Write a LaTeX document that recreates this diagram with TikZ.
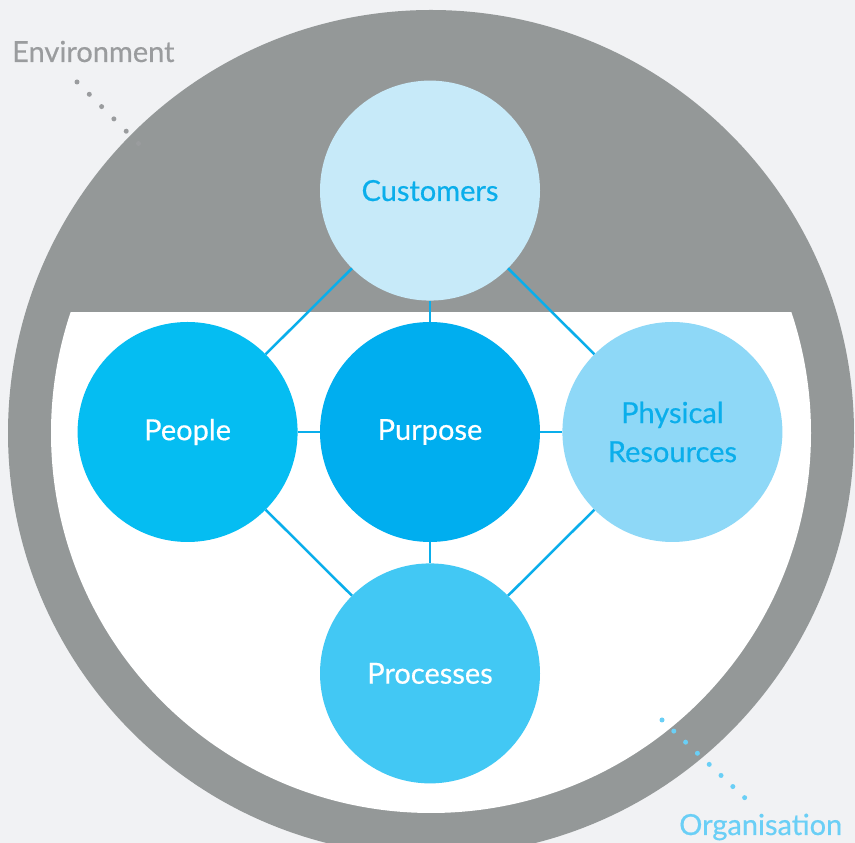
\documentclass[tikz,border=0pt]{standalone}
\usepackage{fontspec}
\setmainfont{Lato}
\newfontfamily\labelfont[FakeBold=0.5]{Lato}
\usepackage{xcolor}
\usepackage{tikz}
\usetikzlibrary{positioning}

\definecolor{bggray}{HTML}{F1F2F4}
\definecolor{rimgray}{HTML}{949898}
\definecolor{envgray}{HTML}{9A9C9E}
\definecolor{orgblue}{HTML}{6ACFF6}
\definecolor{linkblue}{HTML}{0AAEEB}
\definecolor{custfill}{HTML}{C7EAF9}
\definecolor{peoplefill}{HTML}{05BDF2}
\definecolor{purposefill}{HTML}{00AEEF}
\definecolor{physfill}{HTML}{8ED8F7}
\definecolor{procfill}{HTML}{42C8F4}

\begin{document}
\begin{tikzpicture}[x=1pt,y=1pt,node distance=21pt,font=\labelfont\fontsize{29}{39}\selectfont]
            \tikzstyle{every node}=[inner sep=0pt]
            \tikzstyle{bubble}=[circle,draw=none,minimum size=220pt,align=center,text=white]
            \tikzstyle{link}=[draw=linkblue,line width=2.5pt]
            \tikzstyle{dots}=[line width=5pt,line cap=round,dash pattern=on 0pt off 17pt]
            \clip (0,0) rectangle (855,843);
            \fill[bggray] (0,0) rectangle (855,843);
            % environment and organisation
            \fill[rimgray] (431,410) circle (423);
            \begin{scope}
              \clip (0,0) rectangle (855,530);
              \fill[white] (431,410) circle (380);
            \end{scope}
            % the five circles
            \node[bubble, fill=purposefill] (Pu) at (430,411) {Purpose};
            \node[bubble, fill=custfill, text=linkblue, above=of Pu] (Cu) {Customers};
            \node[bubble, fill=peoplefill, left=22pt of Pu] (Pe) {People};
            \node[bubble, fill=physfill, text=linkblue, right=22pt of Pu] (Ph) {Physical\\Resources};
            \node[bubble, fill=procfill, below=of Pu] (Pr) {Processes};
            \path[link] (Cu) edge (Pe)
                        edge (Pu)
                        edge (Ph)
                        (Pe) edge (Pu)
                        edge (Pr)
                        (Pu) edge (Ph)
                        edge (Pr)
                        (Ph) edge (Pr);
            % labels
            \node[anchor=base west, text=envgray] (env) at (12,781) {Environment};
            \node[anchor=base west, text=orgblue] (org) at (679,8) {Organisation};
            \coordinate (envA) at (77,761);
            \coordinate (envB) at (139,699);
            \coordinate (orgA) at (662,123);
            \coordinate (orgB) at (745,45);
            \draw[dots, envgray, dash pattern=on 0pt off 17.4pt] (envA) -- (envB);
            \draw[dots, orgblue, dash pattern=on 0pt off 16.2pt] (orgA) -- (orgB);
          \end{tikzpicture}
\end{document}
